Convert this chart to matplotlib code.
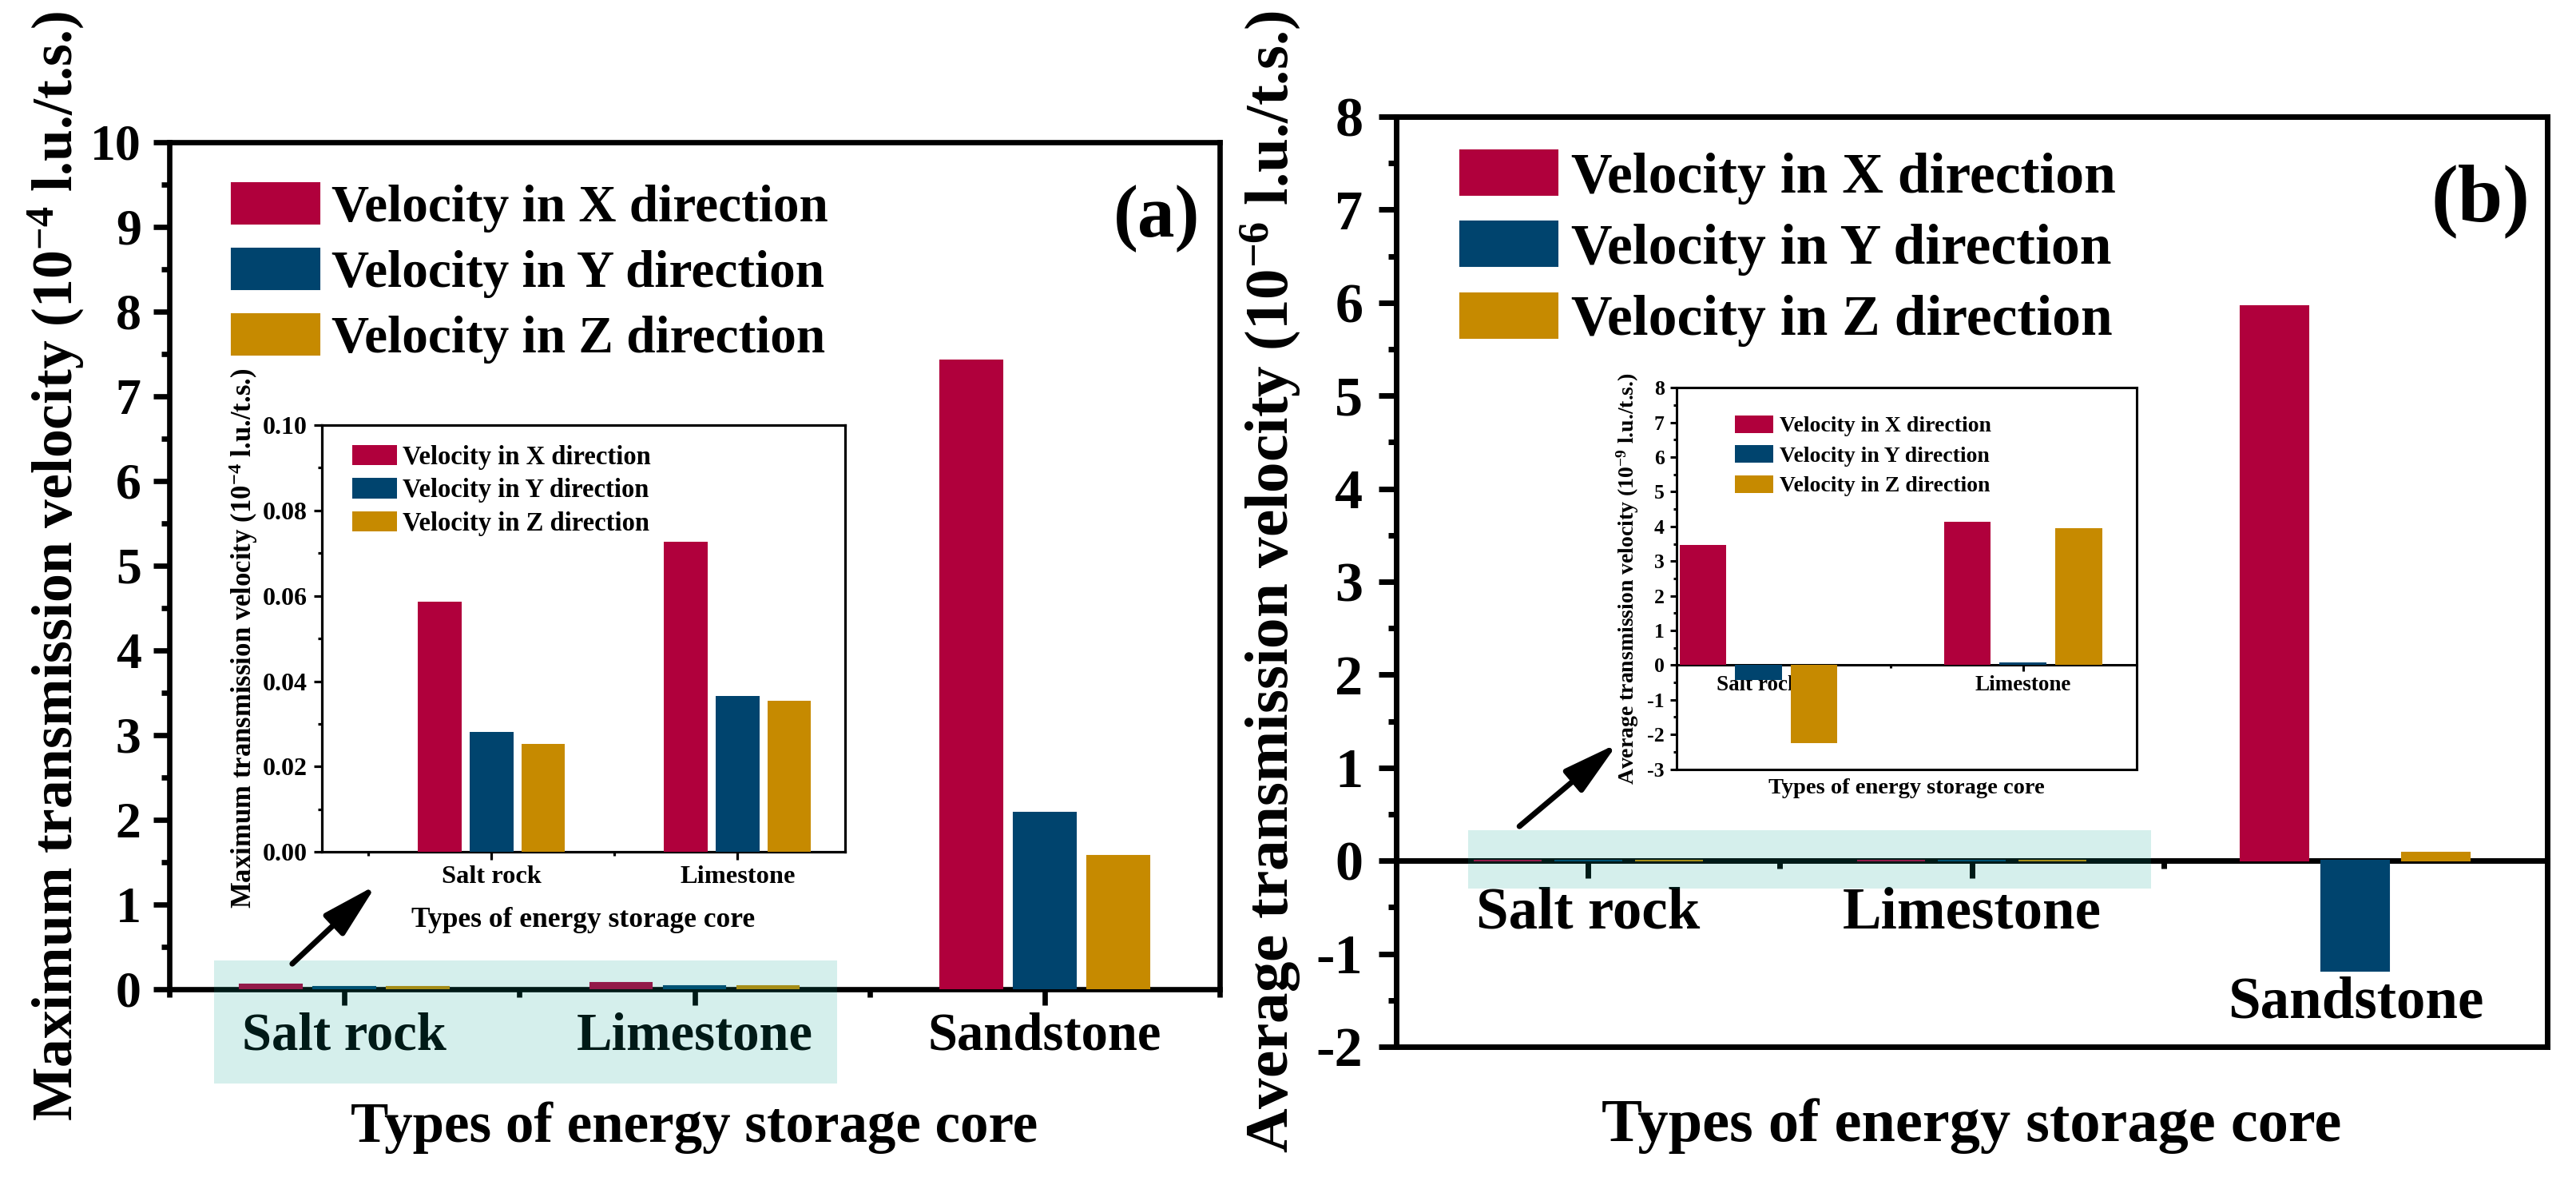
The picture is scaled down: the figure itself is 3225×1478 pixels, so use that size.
import numpy as np
import matplotlib
matplotlib.use('Agg')
import matplotlib.pyplot as plt
from matplotlib.patches import Rectangle
import matplotlib.transforms as mtransforms
from matplotlib.ticker import MultipleLocator, FixedLocator, FuncFormatter, FormatStrFormatter

plt.rcParams['font.family'] = ['Liberation Serif', 'DejaVu Serif']
plt.rcParams['font.weight'] = 'bold'
plt.rcParams['axes.labelweight'] = 'bold'
plt.rcParams['mathtext.fontset'] = 'custom'
plt.rcParams['mathtext.rm'] = 'Liberation Serif:bold'
plt.rcParams['mathtext.bf'] = 'Liberation Serif:bold'
plt.rcParams['mathtext.it'] = 'Liberation Serif:bold:italic'
plt.rcParams['mathtext.default'] = 'rm'

# ---------------- data ----------------
categories = ['Salt rock', 'Limestone', 'Sandstone']
inset_categories = ['Salt rock', 'Limestone']
series_names = ['Velocity in X direction', 'Velocity in Y direction', 'Velocity in Z direction']
colors = ['#b0003c', '#00446e', '#c68a00']

# (a) maximum transmission velocity, 1e-4 l.u./t.s.
max_vx = [0.0586, 0.0727, 7.42]
max_vy = [0.0281, 0.0366, 2.085]
max_vz = [0.0254, 0.0355, 1.578]
# (a) inset, 1e-4 l.u./t.s.
inset_max_vx = [0.0586, 0.0727]
inset_max_vy = [0.0281, 0.0366]
inset_max_vz = [0.0254, 0.0355]

# (b) average transmission velocity, 1e-6 l.u./t.s.
avg_vx = [0.00346, 0.00413, 5.96]
avg_vy = [-0.00044, 0.00007, -1.18]
avg_vz = [-0.00225, 0.00394, 0.09]
# (b) inset, 1e-9 l.u./t.s.
inset_avg_vx = [3.46, 4.13]
inset_avg_vy = [-0.44, 0.07]
inset_avg_vz = [-2.25, 3.94]

BAR_W = 0.177
BAR_STEP = 0.21
W, H = 3225, 1478

fig = plt.figure(figsize=(W / 100, H / 100), dpi=100)


def grouped_bars(ax, series, lw=0.0):
    x = np.arange(1, len(series[0]) + 1)
    for i, vals in enumerate(series):
        ax.bar(x + (i - 1) * BAR_STEP, vals, BAR_W, color=colors[i],
               edgecolor=colors[i], linewidth=lw, zorder=3, label=series_names[i])


def style(ax, spine_lw, maj, mnr, tw):
    for s in ax.spines.values():
        s.set_linewidth(spine_lw)
    ax.tick_params(which='both', direction='out', width=tw, top=False, right=False)
    ax.tick_params(which='major', length=maj)
    ax.tick_params(which='minor', length=mnr)


def px_axes(l, t, r, b):
    return [l / W, 1 - b / H, (r - l) / W, (b - t) / H]


hl_color = (0.0, 0.62, 0.57)

# ======================= panel (a) =======================
axa = fig.add_axes(px_axes(212, 178, 1527, 1238))
grouped_bars(axa, [max_vx, max_vy, max_vz], lw=1.5)
axa.set_xlim(0.5, 3.5)
axa.set_ylim(0, 10)
style(axa, 4.8, 14.4, 7.2, 4.8)
axa.yaxis.set_major_locator(MultipleLocator(1))
axa.yaxis.set_minor_locator(MultipleLocator(0.5))
axa.yaxis.set_major_formatter(FuncFormatter(lambda v, p: f'{v:g}'))
axa.set_xticks([1, 2, 3], categories, fontsize=48)
axa.xaxis.set_minor_locator(FixedLocator([0.5, 1.5, 2.5, 3.5]))
axa.tick_params(axis='y', labelsize=46, pad=11)
axa.tick_params(axis='x', which='major', pad=6)
axa.set_xlabel('Types of energy storage core', fontsize=51)
axa.xaxis.set_label_coords(0.5, -0.163)
axa.xaxis.label.set_va('center')
axa.set_ylabel(r'Maximum transmission velocity (10$^{-4}$ l.u./t.s.)', fontsize=51.5)
axa.yaxis.set_label_coords(-0.1087, 0.5)
axa.yaxis.label.set_va('center')
axa.text(0.940, 0.910, '(a)', transform=axa.transAxes, fontsize=67,
         ha='center', va='center')
axa.legend(loc='upper left', bbox_to_anchor=(0.0596, 0.952), frameon=False,
           fontsize=47, handlelength=1.685, handleheight=0.83, handletextpad=0.23,
           labelspacing=0.3, borderpad=0, borderaxespad=0)
axa.add_patch(Rectangle((0.628, -1.11), 2.407 - 0.628, 1.45, facecolor=hl_color,
                        alpha=0.165, edgecolor='none', zorder=10, clip_on=False))
axa.annotate('', xy=(1.091, 1.23), xytext=(0.851, 0.30),
             arrowprops=dict(arrowstyle='-|>,head_length=42,head_width=11',
                             mutation_scale=1, lw=5, color='k',
                             shrinkA=0, shrinkB=0), zorder=11)

# inset (a)
axia = axa.inset_axes([0.145, 0.162, 0.498, 0.504])
grouped_bars(axia, [inset_max_vx, inset_max_vy, inset_max_vz])
axia.set_xlim(0.31, 2.435)
axia.set_ylim(0, 0.10)
style(axia, 2.3, 7, 3.6, 2.3)
axia.yaxis.set_major_locator(MultipleLocator(0.02))
axia.yaxis.set_minor_locator(MultipleLocator(0.01))
axia.yaxis.set_major_formatter(FormatStrFormatter('%.2f'))
axia.set_xticks([1, 2], inset_categories, fontsize=23.4)
axia.xaxis.set_minor_locator(FixedLocator([0.5, 1.5]))
axia.tick_params(axis='y', labelsize=23, pad=5.8)
axia.tick_params(axis='x', which='major', pad=5)
axia.set_xlabel('Types of energy storage core', fontsize=25.5)
axia.xaxis.set_label_coords(0.5, -0.159)
axia.xaxis.label.set_va('center')
axia.set_ylabel(r'Maximum transmission velocity (10$^{-4}$ l.u./t.s.)', fontsize=25)
axia.yaxis.set_label_coords(-0.15, 0.5)
axia.yaxis.label.set_va('center')
axia.legend(loc='upper left', bbox_to_anchor=(0.059, 0.954), frameon=False,
            fontsize=23.5, handlelength=1.70, handleheight=0.83, handletextpad=0.21,
            labelspacing=0.32, borderpad=0, borderaxespad=0)

# ======================= panel (b) =======================
axb = fig.add_axes(px_axes(1748, 146, 3189, 1310))
grouped_bars(axb, [avg_vx, avg_vy, avg_vz], lw=1.5)
axb.set_xlim(0.5, 3.5)
axb.set_ylim(-2, 8)
style(axb, 5, 16, 7, 5)
axb.spines['bottom'].set_position(('data', 0))
axb.plot([0, 1], [0, 0], transform=axb.transAxes, color='k', lw=5,
         clip_on=False, solid_capstyle='projecting', zorder=2.5)
axb.yaxis.set_major_locator(MultipleLocator(1))
axb.yaxis.set_minor_locator(MultipleLocator(0.5))
axb.yaxis.set_major_formatter(FuncFormatter(lambda v, p: f'{v:g}'))
axb.set_xticks([1, 2, 3], categories, fontsize=52.5)
axb.xaxis.set_minor_locator(FixedLocator([0.5, 1.5, 2.5, 3.5]))
axb.tick_params(axis='y', labelsize=50.5, pad=14)
axb.tick_params(axis='x', which='major', pad=7)
lab = axb.get_xticklabels()[2]
lab.set_transform(lab.get_transform() +
                  mtransforms.ScaledTranslation(0, -1.12, fig.dpi_scale_trans))
axb.set_xlabel('Types of energy storage core', fontsize=55)
axb.xaxis.set_label_coords(0.5, -0.085)
axb.xaxis.label.set_va('center')
axb.set_ylabel(r'Average transmission velocity (10$^{-6}$ l.u./t.s.)', fontsize=55.5)
axb.yaxis.set_label_coords(-0.109, 0.5)
axb.yaxis.label.set_va('center')
axb.text(0.942, 0.909, '(b)', transform=axb.transAxes, fontsize=73,
         ha='center', va='center')
axb.legend(loc='upper left', bbox_to_anchor=(0.0555, 0.964), frameon=False,
           fontsize=51.5, handlelength=1.71, handleheight=0.83, handletextpad=0.23,
           labelspacing=0.30, borderpad=0, borderaxespad=0)
axb.add_patch(Rectangle((0.687, -0.30), 2.467 - 0.687, 0.63, facecolor=hl_color,
                        alpha=0.165, edgecolor='none', zorder=10, clip_on=False))
axb.annotate('', xy=(1.077, 1.26), xytext=(0.821, 0.37),
             arrowprops=dict(arrowstyle='-|>,head_length=42,head_width=11',
                             mutation_scale=1, lw=5, color='k',
                             shrinkA=0, shrinkB=0), zorder=11)

# inset (b)
axib = axb.inset_axes([0.2434, 0.2985, 0.40, 0.41])
grouped_bars(axib, [inset_avg_vx, inset_avg_vy, inset_avg_vz])
axib.set_xlim(0.69, 2.43)
axib.set_ylim(-3, 8)
style(axib, 2.2, 5.8, 3.2, 2.2)
axib.spines['bottom'].set_position(('data', 0))
axib.plot([0, 1], [0, 0], transform=axib.transAxes, color='k', lw=2.2,
          clip_on=False, solid_capstyle='projecting', zorder=2.5)
axib.yaxis.set_major_locator(MultipleLocator(1))
axib.yaxis.set_minor_locator(MultipleLocator(0.5))
axib.yaxis.set_major_formatter(FuncFormatter(lambda v, p: f'{v:g}'))
axib.set_xticks([1, 2], inset_categories, fontsize=19.5)
axib.xaxis.set_minor_locator(FixedLocator([1.5]))
axib.tick_params(axis='y', labelsize=18.5, pad=5)
axib.tick_params(axis='x', which='major', pad=3)
axib.set_xlabel('Types of energy storage core', fontsize=20.5)
axib.xaxis.set_label_coords(0.5, -0.05)
axib.xaxis.label.set_va('center')
axib.set_ylabel(r'Average transmission velocity (10$^{-9}$ l.u./t.s.)', fontsize=20)
axib.yaxis.set_label_coords(-0.106, 0.5)
axib.yaxis.label.set_va('center')
axib.legend(loc='upper left', bbox_to_anchor=(0.127, 0.928), frameon=False,
            fontsize=20, handlelength=1.74, handleheight=0.85, handletextpad=0.27,
            labelspacing=0.39, borderpad=0, borderaxespad=0)

fig.savefig('out.png', dpi=100)
